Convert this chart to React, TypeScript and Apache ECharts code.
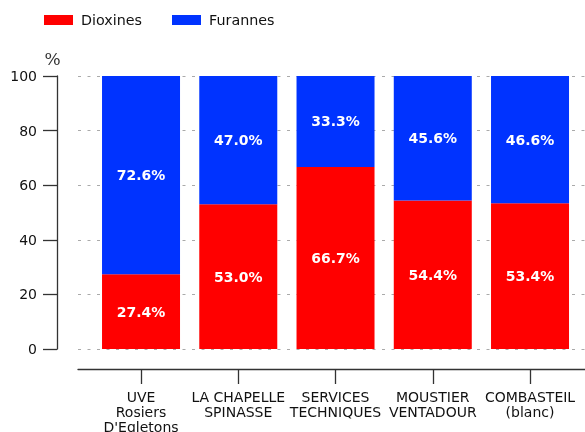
import React, { useEffect, useRef } from "react";
import * as echarts from "echarts";

const categories = [
  "UVE\nRosiers\nD'Egletons",
  "LA CHAPELLE\nSPINASSE",
  "SERVICES\nTECHNIQUES",
  "MOUSTIER\nVENTADOUR",
  "COMBASTEIL\n(blanc)",
];
const dioxines = [27.4, 53.0, 66.7, 54.4, 53.4];
const furannes = [72.6, 47.0, 33.3, 45.6, 46.6];

const FONT = "DejaVu Sans";

export default function App() {
  const ref = useRef<HTMLDivElement>(null);
  useEffect(() => {
    if (!ref.current) return;
    const chart = echarts.init(ref.current, null, { renderer: "svg" });
    const label = {
      show: true,
      position: "inside",
      color: "#ffffff",
      fontWeight: "bold",
      fontSize: 14,
      fontFamily: FONT,
      formatter: (p: any) => Number(p.value).toFixed(1) + "%",
    };
    const spine = { color: "#333", width: 1.3 };
    chart.setOption({
      animation: false,
      textStyle: { fontFamily: FONT },
      legend: {
        left: 44,
        top: 13,
        padding: 0,
        itemWidth: 29,
        itemHeight: 10,
        itemGap: 30,
        icon: "rect",
        textStyle: { fontSize: 14.3, color: "#111", fontFamily: FONT, padding: [0, 0, 0, 3] },
        data: ["Dioxines", "Furannes"],
      },
      grid: [
        { left: 92.4, top: 76, bottom: 83, width: 486.25, outerBoundsMode: "none", containLabel: false },
        { left: 78, top: 76, bottom: 83, width: 516, outerBoundsMode: "none", containLabel: false },
      ],
      xAxis: [
        {
          gridIndex: 0,
          type: "category",
          data: categories,
          offset: 20,
          axisLine: { show: false, onZero: false },
          axisTick: { show: true, alignWithLabel: true, length: 15, lineStyle: spine },
          axisLabel: {
            margin: 20,
            fontSize: 14,
            lineHeight: 15,
            color: "#111",
            fontFamily: FONT,
            interval: 0,
          },
          splitLine: { show: false },
        },
        {
          gridIndex: 1,
          type: "value",
          min: 0,
          max: 1,
          offset: 20,
          axisLine: { show: true, onZero: false, lineStyle: spine },
          axisTick: { show: false },
          axisLabel: { show: false },
          splitLine: { show: false },
        },
      ],
      yAxis: [
        {
          gridIndex: 0,
          type: "value",
          min: 0,
          max: 100,
          interval: 20,
          offset: 35.4,
          name: "%",
          nameLocation: "end",
          nameGap: 9,
          nameTextStyle: {
            fontFamily: "DejaVu Serif",
            fontSize: 17,
            color: "#333",
            verticalAlign: "bottom",
            padding: [0, 9, 0, 0],
          },
          axisLine: { show: true, onZero: false, lineStyle: spine },
          axisTick: { show: true, length: 14, lineStyle: spine },
          axisLabel: { margin: 20, fontSize: 14, color: "#111", fontFamily: FONT },
          splitLine: { show: false },
        },
        {
          gridIndex: 1,
          type: "value",
          min: 0,
          max: 100,
          interval: 20,
          axisLine: { show: false },
          axisTick: { show: false },
          axisLabel: { show: false },
          splitLine: {
            show: true,
            lineStyle: { color: "#aaaaaa", type: [3, 6.5], width: 1 },
          },
        },
      ],
      series: [
        {
          name: "Dioxines",
          type: "bar",
          stack: "total",
          xAxisIndex: 0,
          yAxisIndex: 0,
          barWidth: 78,
          itemStyle: { color: "#ff0000" },
          label,
          data: dioxines,
        },
        {
          name: "Furannes",
          type: "bar",
          stack: "total",
          xAxisIndex: 0,
          yAxisIndex: 0,
          barWidth: 78,
          itemStyle: { color: "#0033ff" },
          label,
          data: furannes,
        },
      ],
    });
    return () => chart.dispose();
  }, []);
  return <div ref={ref} style={{ width: 585, height: 432, position: "fixed", left: 0, top: 0 }} />;
}
